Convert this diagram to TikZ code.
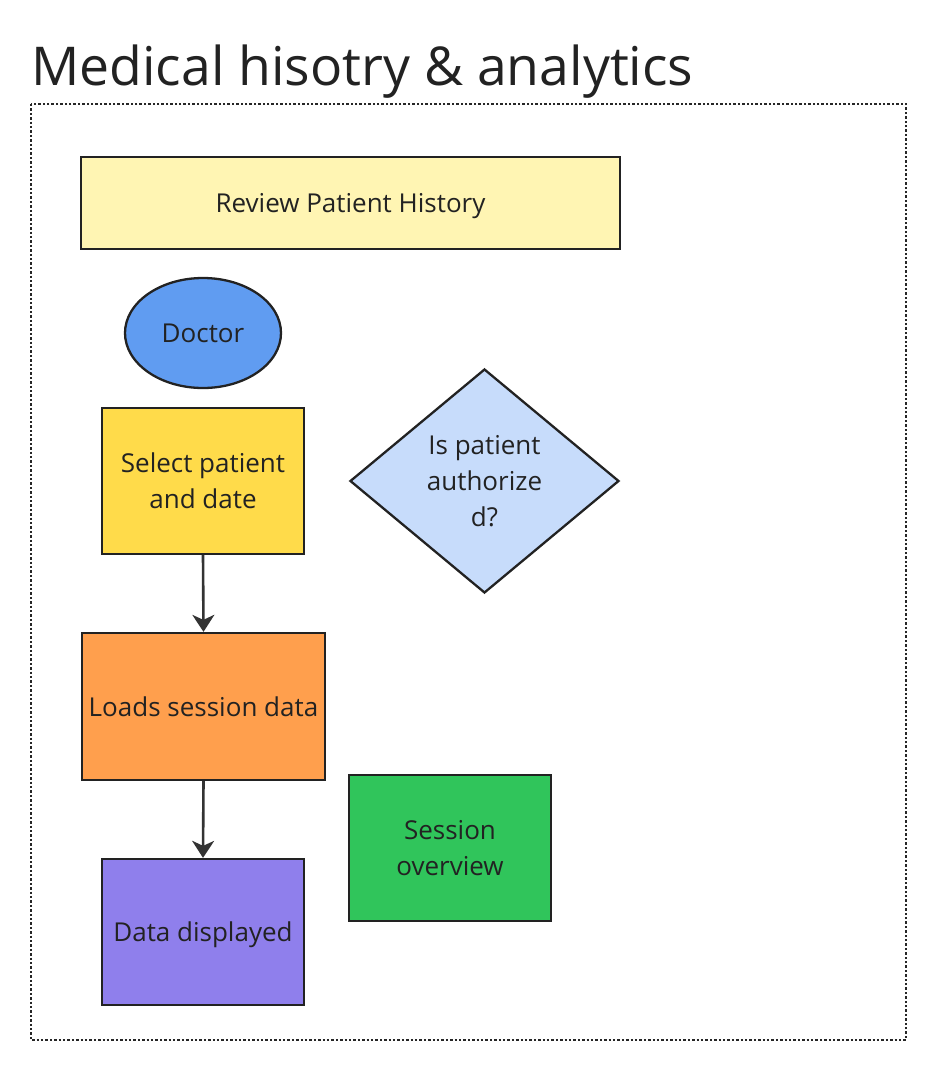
\documentclass[tikz,border=0pt]{standalone}
\usepackage{fontspec}
\setmainfont{Open Sans}
\usetikzlibrary{shapes.geometric,arrows.meta}
\definecolor{txt}{HTML}{222222}
\definecolor{edge}{HTML}{222222}
\definecolor{arr}{HTML}{333333}
\definecolor{cReview}{HTML}{FFF5B3}
\definecolor{cDoctor}{HTML}{609CF1}
\definecolor{cSelect}{HTML}{FFDB4A}
\definecolor{cAuth}{HTML}{C7DCFB}
\definecolor{cLoads}{HTML}{FF9F4D}
\definecolor{cSession}{HTML}{30C55B}
\definecolor{cData}{HTML}{8F7FEC}
\tikzset{
  shapebox/.style={draw=edge, line width=2.3pt, inner sep=0pt, align=center, text=txt,
    font=\fontsize{26}{36}\selectfont},
  oneline/.style={text depth=0pt},
  flow/.style={draw=arr, line width=2.6pt, -{Stealth[length=17pt, width=22pt, inset=5pt]}},
  frame/.style={draw=black!85, line width=2.6pt, dash pattern=on 2.4pt off 2pt},
}
\begin{document}
\begin{tikzpicture}[x=1pt, y=-1pt]
\useasboundingbox (0,0) rectangle (928,1077);
\node[anchor=base west, inner sep=0pt, text=txt, font=\fontsize{53.5}{60}\selectfont] (title) at (31,85) {Medical hisotry \& analytics};
\draw[frame] (31,104) rectangle (906,1040);
\node[shapebox, oneline, rectangle, fill=cReview, minimum width=539pt, minimum height=92pt] (review) at (350.5,203) {Review Patient History};
\node[shapebox, ellipse, fill=cDoctor, minimum width=156pt, minimum height=110pt] (doctor) at (203,333) {Doctor};
\node[shapebox, rectangle, fill=cSelect, minimum width=202pt, minimum height=146pt] (select) at (203,481) {Select patient\\and date};
\node[shapebox, diamond, fill=cAuth, minimum width=269pt, minimum height=224pt] (auth) at (484.5,481) {Is patient\\authorize\\d?};
\node[shapebox, rectangle, fill=cLoads, minimum width=243pt, minimum height=147pt] (loads) at (203.5,706.5) {Loads session data};
\node[shapebox, rectangle, fill=cSession, minimum width=202pt, minimum height=146pt] (session) at (450,848) {Session\\overview};
\node[shapebox, oneline, rectangle, fill=cData, minimum width=202pt, minimum height=146pt] (data) at (203,932) {Data displayed};
\draw[flow] (select.south) -- (loads.north);
\draw[flow] (loads.south) -- (data.north);
\end{tikzpicture}
\end{document}
